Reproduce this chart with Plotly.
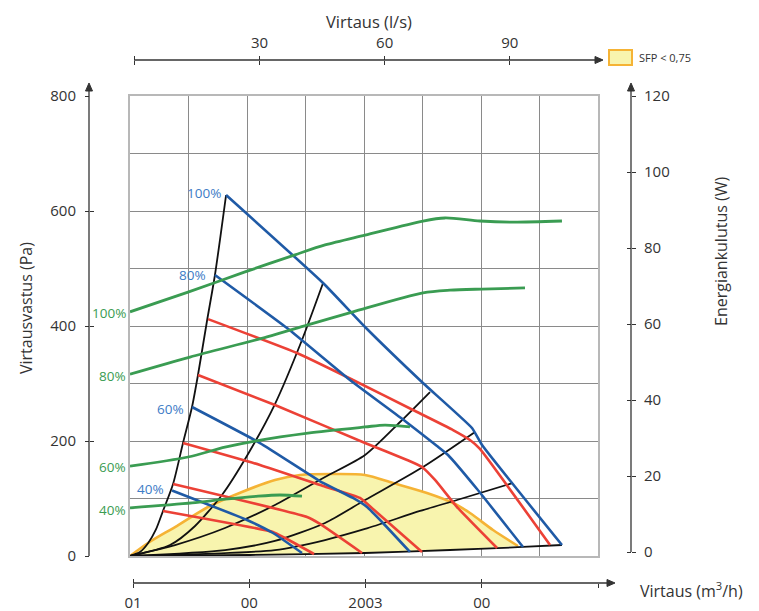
import plotly.graph_objects as go

W, H = 759, 611

# ---------------- data ----------------
# bottom flow axis (m3/h) and top flow axis (l/s)
flow_ticks_m3h = [0, 100, 200, 300]
flow_ticktext_m3h = ["01", "00", "2003", "00"]
flow_end_m3h = [400]
flow_ticks_ls = [30, 60, 90]
flow_ticktext_ls = ["30", "60", "90"]
flow_start_ls = [0]
pa_ticks = [0, 200, 400, 600, 800]
w_ticks = [0, 20, 40, 60, 80, 100, 120]

# fan curves (blue), x = m3/h, y = Pa
fan100_x = [82.1, 165.0, 200.9, 250.4, 292.3, 300.9, 369.2]
fan100_y = [627.8, 474.8, 398.3, 300.9, 222.6, 193.0, 19.1]
fan80_x = [72.6, 134.2, 188.0, 235.0, 262.4, 271.8, 296.6, 335.9]
fan80_y = [488.7, 396.5, 306.1, 234.8, 191.3, 175.7, 116.5, 15.7]
fan60_x = [53.0, 111.1, 165.0, 190.6, 202.6, 216.2, 239.3]
fan60_y = [259.1, 196.5, 127.0, 100.9, 85.2, 57.4, 7.0]
fan40_x = [35.9, 100.0, 122.2, 147.0]
fan40_y = [114.0, 62.6, 40.0, 5.2]
fan_labels = ["100%", "80%", "60%", "40%"]

# sound level curves (red)
db58_x = [66.7, 142.7, 190.6, 241.9, 276.1, 290.6, 299.1, 359.0]
db58_y = [412.0, 353.0, 306.1, 253.9, 219.1, 201.7, 186.1, 19.1]
db55_x = [58.1, 123.9, 200.9, 236.8, 249.6, 260.7, 279.5, 313.7]
db55_y = [314.8, 262.6, 196.5, 167.0, 154.8, 132.2, 85.2, 13.9]
db50_x = [45.3, 111.1, 165.0, 196.6, 207.7, 249.6]
db50_y = [196.5, 158.3, 121.7, 100.9, 81.7, 7.0]
db45_x = [36.8, 151.3, 162.4, 198.3]
db45_y = [125.2, 67.8, 55.7, 5.2]
db40_x = [28.2, 122.2, 132.5, 157.3]
db40_y = [78.3, 41.7, 31.3, 3.5]
db_labels = ["40", "45", "50", "55", "58"]
db_label_x = [154.3, 200.4, 249.6, 311.1, 361.1]

# system curves (black)
sys1_x = [0, 8.5, 15.4, 22.2, 28.2, 36.8, 45.3, 53.0, 58.1, 65.8, 72.6, 82.1]
sys1_y = [0, 6.8, 22.1, 46.1, 78.3, 125.2, 196.5, 259.1, 314.8, 408.7, 488.7, 627.8]
sys2_x = [0, 34.2, 55.6, 78.6, 100.9, 123.9, 147.0, 165.0]
sys2_y = [0, 19.1, 52.2, 106.1, 177.4, 264.3, 375.7, 474.8]
sys3_x = [0, 38.5, 81.2, 123.9, 166.7, 200.9, 230.8, 256.4]
sys3_y = [0, 19.1, 48.7, 88.7, 137.4, 175.7, 233.0, 285.2]
sys4_x = [0, 81.2, 123.9, 166.7, 200.9, 250.4, 294.9]
sys4_y = [0, 10.4, 26.1, 57.4, 97.4, 154.8, 215.7]
sys5_x = [0, 123.9, 166.7, 200.9, 247.9, 279.5, 327.4]
sys5_y = [0, 10.4, 27.8, 47.0, 78.3, 97.4, 127.0]
sys6_x = [0, 102.6, 200.9, 273.5, 335.9, 369.2]
sys6_y = [0, 1.7, 5.2, 10.4, 15.7, 19.1]

# SFP < 0,75 region (top boundary, then bottom back to origin)
sfp_top_x = [0, 15.4, 38.5, 66.7, 95.7, 123.9, 145.3, 172.6, 200.9, 224.8, 253.8, 276.1, 290.6, 310.3, 331.6]
sfp_top_y = [0, 22.6, 50.4, 85.2, 111.3, 132.2, 140.9, 142.6, 140.9, 127.0, 109.6, 92.2, 74.8, 45.2, 17.4]
sfp_bot_x = [273.5, 200.9, 102.6, 0]
sfp_bot_y = [10.4, 5.2, 1.7, 0]

# power consumption (green), y = W
pow100_x = [0, 49.6, 98.3, 141.0, 166.7, 200.9, 250.4, 269.2, 299.1, 326.5, 369.2]
pow100_w = [63.2, 68.4, 73.7, 78.2, 80.8, 83.4, 87.1, 87.9, 87.1, 86.8, 87.1]
pow80_x = [0, 51.3, 117.1, 151.3, 190.6, 250.4, 273.5, 300.9, 337.6]
pow80_w = [46.8, 51.3, 56.6, 59.7, 63.2, 68.2, 68.9, 69.2, 69.5]
pow60_x = [0, 49.6, 81.2, 106.8, 152.1, 200.9, 217.9, 239.3]
pow60_w = [22.6, 25.0, 27.6, 29.2, 31.3, 32.9, 33.4, 32.9]
pow40_x = [0, 53.0, 81.2, 109.4, 128.2, 147.0]
pow40_w = [11.6, 12.9, 13.9, 14.7, 15.0, 14.7]

# ---------------- style ----------------
FONT = "Open Sans"
TXT = "#333333"
BLUE = "#1f5aa6"
BLUE_T = "#3d7cc6"
RED = "#ec4136"
GREEN = "#3a9c52"
BLACK = "#111111"
YEL = "#f8f4ae"
ORANGE = "#f5b335"
GRID = "#8a8a8a"


def fx(p):
    return p / W


def fy(p):
    return 1 - p / H


fig = go.Figure()

# SFP region
fig.add_trace(go.Scatter(x=sfp_top_x + sfp_bot_x, y=sfp_top_y + sfp_bot_y, fill="toself",
                         fillcolor=YEL, line=dict(width=0), mode="lines", hoverinfo="skip"))
fig.add_trace(go.Scatter(x=sfp_top_x, y=sfp_top_y, mode="lines",
                         line=dict(color=ORANGE, width=2.6, shape="spline", smoothing=0.8)))

for sx, sy in [(sys1_x, sys1_y), (sys2_x, sys2_y), (sys3_x, sys3_y),
               (sys4_x, sys4_y), (sys5_x, sys5_y), (sys6_x, sys6_y)]:
    fig.add_trace(go.Scatter(x=sx, y=sy, mode="lines",
                             line=dict(color=BLACK, width=1.8, shape="spline", smoothing=0.7)))

for rx, ry in [(db58_x, db58_y), (db55_x, db55_y), (db50_x, db50_y),
               (db45_x, db45_y), (db40_x, db40_y)]:
    fig.add_trace(go.Scatter(x=rx, y=ry, mode="lines",
                             line=dict(color=RED, width=2.6, shape="spline", smoothing=0.4)))

fans = [(fan100_x, fan100_y), (fan80_x, fan80_y), (fan60_x, fan60_y), (fan40_x, fan40_y)]
for bx, by in fans:
    fig.add_trace(go.Scatter(x=bx, y=by, mode="lines",
                             line=dict(color=BLUE, width=2.6, shape="spline", smoothing=0.4)))

pows = [(pow100_x, pow100_w), (pow80_x, pow80_w), (pow60_x, pow60_w), (pow40_x, pow40_w)]
for gx, gw in pows:
    fig.add_trace(go.Scatter(x=gx, y=gw, yaxis="y3", mode="lines",
                             line=dict(color=GREEN, width=2.8, shape="spline", smoothing=0.8)))

# dummy traces so every auxiliary axis gets drawn
for xa, ya in [("x2", "y"), ("x3", "y"), ("x4", "y"), ("x5", "y"),
               ("x", "y2"), ("x", "y4"), ("x", "y5")]:
    fig.add_trace(go.Scatter(x=[None], y=[None], xaxis=xa, yaxis=ya, mode="lines",
                             hoverinfo="skip"))

tickfont = dict(family=FONT, size=15, color=TXT)
common_tick = dict(showgrid=False, zeroline=False, showline=False, tickcolor=TXT,
                   tickwidth=1.2, ticklen=4, tickfont=tickfont, fixedrange=True, automargin=False)

x_dom = [fx(130), fx(598)]
y_dom = [fy(556), fy(96)]
X2R = [-2.58, 400]
X3R = [-1.079, 111.15]
Y3R = [-1.053, 120]

fig.update_layout(
    width=W, height=H,
    margin=dict(l=0, r=0, t=0, b=0),
    paper_bgcolor="white", plot_bgcolor="white",
    showlegend=False,
    font=dict(family=FONT, color=TXT),
    xaxis=dict(domain=x_dom, range=[0, 400], dtick=50, tick0=0, showgrid=True, gridcolor=GRID,
               gridwidth=1, showticklabels=False, ticks="", zeroline=False, showline=True,
               mirror=True, linecolor="#b8b8b8", linewidth=1.6, fixedrange=True, automargin=False),
    yaxis=dict(domain=y_dom, range=[0, 800], dtick=100, tick0=0, showgrid=True, gridcolor=GRID,
               gridwidth=1, showticklabels=False, ticks="", zeroline=False, showline=True,
               mirror=True, linecolor="#b8b8b8", linewidth=1.6, fixedrange=True, automargin=False),
    # bottom m3/h axis
    xaxis2=dict(overlaying="x", anchor="free", position=fy(583), side="bottom",
                range=X2R, tickmode="array", tickvals=flow_ticks_m3h,
                ticktext=flow_ticktext_m3h, ticks="outside", ticklabelstandoff=2,
                minor=dict(tickmode="array", tickvals=flow_end_m3h, ticks="outside", ticklen=4,
                           tickcolor=TXT, tickwidth=1.2, showgrid=False),
                **common_tick),
    xaxis4=dict(overlaying="x", anchor="free", position=fy(583), side="bottom",
                range=X2R, tickmode="array", tickvals=flow_ticks_m3h + flow_end_m3h,
                ticks="inside", showticklabels=False, **common_tick),
    # top l/s axis
    xaxis3=dict(overlaying="x", anchor="free", position=fy(60), side="top",
                range=X3R, tickmode="array", tickvals=flow_ticks_ls,
                ticktext=flow_ticktext_ls, ticks="outside", ticklabelstandoff=2,
                minor=dict(tickmode="array", tickvals=flow_start_ls, ticks="outside", ticklen=4,
                           tickcolor=TXT, tickwidth=1.2, showgrid=False),
                **common_tick),
    xaxis5=dict(overlaying="x", anchor="free", position=fy(60), side="top",
                range=X3R, tickmode="array", tickvals=flow_start_ls + flow_ticks_ls,
                ticks="inside", showticklabels=False, **common_tick),
    # left Pa axis
    yaxis2=dict(overlaying="y", anchor="free", position=fx(89), side="left",
                range=[0, 800], tickmode="array", tickvals=pa_ticks,
                ticks="outside", ticklabelstandoff=6, **common_tick),
    yaxis4=dict(overlaying="y", anchor="free", position=fx(89), side="left",
                range=[0, 800], tickmode="array", tickvals=pa_ticks,
                ticks="inside", showticklabels=False, **common_tick),
    # right W axis
    yaxis3=dict(overlaying="y", anchor="free", position=fx(631), side="right",
                range=Y3R, tickmode="array", tickvals=w_ticks,
                ticks="outside", ticklabelstandoff=5, **common_tick),
    yaxis5=dict(overlaying="y", anchor="free", position=fx(631), side="right",
                range=Y3R, tickmode="array", tickvals=w_ticks,
                ticks="inside", showticklabels=False, **common_tick),
)

# axis lines with arrow heads
shapes = []
line = dict(color=TXT, width=1.3)


def seg(x0, y0, x1, y1):
    shapes.append(dict(type="line", xref="paper", yref="paper", x0=fx(x0), y0=fy(y0),
                       x1=fx(x1), y1=fy(y1), line=line, layer="above"))


def tri(pts):
    d = "M" + " L".join(f"{fx(a):.5f},{fy(b):.5f}" for a, b in pts) + " Z"
    shapes.append(dict(type="path", xref="paper", yref="paper", path=d,
                       fillcolor=TXT, line=dict(color=TXT, width=1), layer="above"))


seg(134, 60, 597, 60)
tri([(603, 60), (595, 56.5), (595, 63.5)])
seg(133, 583, 609, 583)
tri([(615, 583), (607, 579.5), (607, 586.5)])
seg(89, 556, 89, 90)
tri([(89, 83), (85.5, 91), (92.5, 91)])
seg(631, 552, 631, 90)
tri([(631, 83), (627.5, 91), (634.5, 91)])
# legend swatch
shapes.append(dict(type="rect", xref="paper", yref="paper", x0=fx(609), y0=fy(65),
                   x1=fx(632), y1=fy(50), fillcolor=YEL, line=dict(color=ORANGE, width=2)))
fig.update_layout(shapes=shapes)

ann = []
ann.append(dict(text="SFP &lt; 0,75", xref="paper", yref="paper", x=fx(637), y=fy(57.5),
                xanchor="left", yanchor="middle", showarrow=False,
                font=dict(family=FONT, size=11, color=TXT)))
ann.append(dict(text="Virtaus (l/s)", xref="paper", yref="paper", x=fx(369), y=fy(21),
                xanchor="center", yanchor="middle", showarrow=False,
                font=dict(family=FONT, size=16.5, color=TXT)))
ann.append(dict(text="Virtaus (m<sup>3</sup>/h)", xref="paper", yref="paper", x=fx(691), y=fy(590),
                xanchor="center", yanchor="middle", showarrow=False,
                font=dict(family=FONT, size=16, color=TXT)))
ann.append(dict(text="Virtausvastus (Pa)", xref="paper", yref="paper", x=fx(26), y=fy(308),
                xanchor="center", yanchor="middle", showarrow=False, textangle=-90,
                font=dict(family=FONT, size=16, color=TXT)))
ann.append(dict(text="Energiankulutus (W)", xref="paper", yref="paper", x=fx(721), y=fy(251),
                xanchor="center", yanchor="middle", showarrow=False, textangle=-90,
                font=dict(family=FONT, size=16, color=TXT)))

# dB labels
for lab, lx in zip(db_labels, db_label_x):
    ann.append(dict(text=f"{lab}<span style='font-size:11px'>dB(A)</span>", x=lx, y=-19.1,
                    xref="x", yref="y", xanchor="center", yanchor="middle", showarrow=False,
                    font=dict(family=FONT, size=14, color=RED)))

# fan % labels (blue) at the curve starts
fan_shift = [(-3, 2), (-7, 0), (-6, -2), (-6, 1)]
for lab, (bx, by), (dx, dy) in zip(fan_labels, fans, fan_shift):
    ann.append(dict(text=lab, x=bx[0], y=by[0], xref="x", yref="y", xanchor="right",
                    yanchor="middle", xshift=dx, yshift=dy, showarrow=False,
                    font=dict(family=FONT, size=13.5, color=BLUE_T)))

# power % labels (green)
pow_shift = [-1, -2, -1, -2]
for lab, (gx, gw), dy in zip(fan_labels, pows, pow_shift):
    ann.append(dict(text=lab, x=gx[0], y=gw[0], xref="x", yref="y3", xanchor="right",
                    yanchor="middle", xshift=-2, yshift=dy, showarrow=False,
                    font=dict(family=FONT, size=13.5, color=GREEN)))

fig.update_layout(annotations=ann)

fig.write_html("out.html", config={"displayModeBar": False},
               post_script="document.body.style.margin='0px';document.body.style.overflow='hidden';")
